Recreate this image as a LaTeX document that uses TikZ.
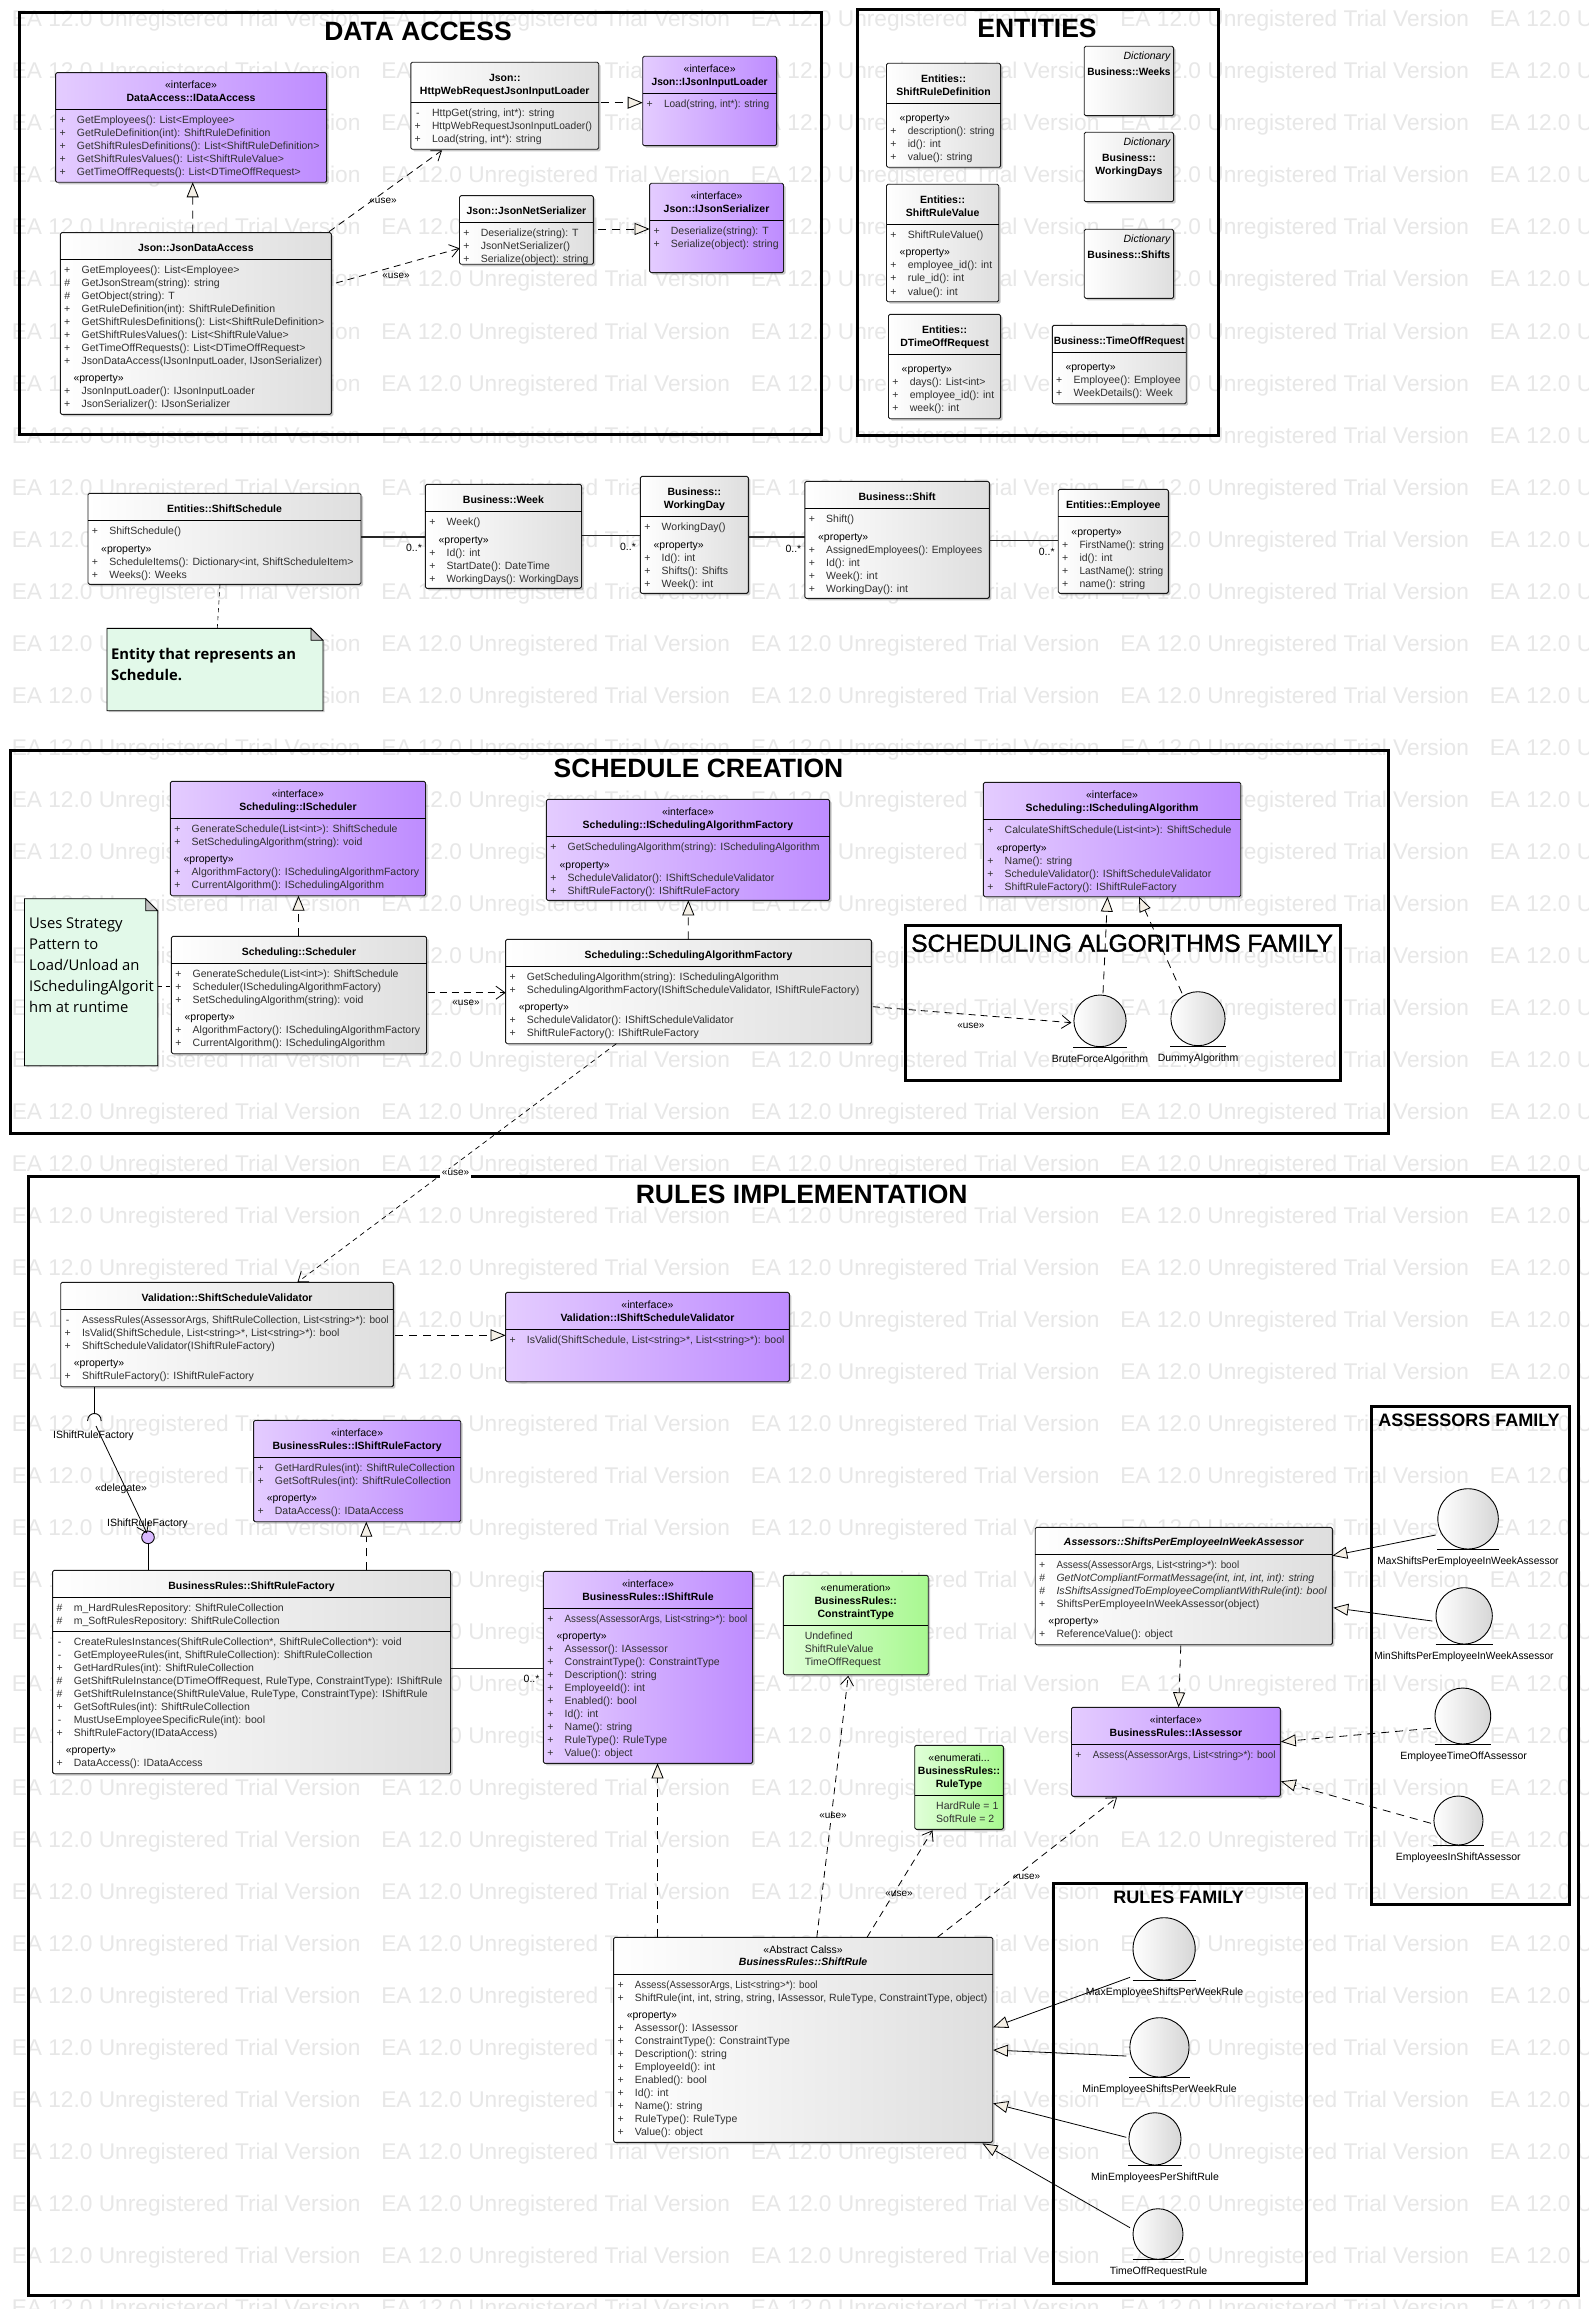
\documentclass[tikz,border=0pt]{standalone}
\usepackage{fontspec}
\setmainfont{Liberation Sans}
\newfontfamily\notefont{Open Sans}
\newfontfamily\semifont{Liberation Sans}[FakeBold=1.6]
\usetikzlibrary{arrows.meta,shapes.geometric,shadows}
\definecolor{ifL}{HTML}{E4CCFF}\definecolor{ifR}{HTML}{BE8CFF}
\definecolor{clR}{HTML}{DEDEDE}
\definecolor{enL}{HTML}{E0FFD8}\definecolor{enR}{HTML}{A8F890}
\definecolor{noteF}{HTML}{E2F9E9}\definecolor{tipF}{HTML}{F5F0E6}
\definecolor{wm}{HTML}{E7E7E7}\definecolor{memC}{HTML}{303030}
\newcommand\fsm{\fontsize{10.5}{13}\selectfont}
\newcommand\sq[2]{\scalebox{#1}[1]{#2}}
\newcounter{tn}
\tikzset{
 boxbase/.style={draw=black!90,line width=.9pt,rounded corners=1.5pt,inner sep=0pt,outer sep=0pt,
   drop shadow={shadow xshift=2pt,shadow yshift=-2pt,opacity=.35,fill=black!60}},
 ifbox/.style={boxbase,left color=ifL,right color=ifR},
 clbox/.style={boxbase,left color=white,right color=clR},
 enbox/.style={boxbase,left color=enL,right color=enR},
 seprule/.style={black,line width=.9pt},
 frm/.style={draw=black,line width=3pt,inner sep=0pt,outer sep=0pt},
 txt/.style={inner sep=0pt,outer sep=0pt,font=\fsm},
 realize/.style={draw=black,line width=.8pt,dash pattern=on 8pt off 6pt,-{Triangle[length=15pt,width=12pt,fill=tipF,line width=.8pt]}},
 realsolid/.style={draw=black,line width=.8pt,-{Triangle[length=15pt,width=12pt,fill=tipF,line width=.8pt]}},
 dep/.style={draw=black,line width=.8pt,dash pattern=on 7pt off 5pt,-{Straight Barb[length=9pt,width=13pt,line width=.8pt]}},
 assoc/.style={draw=black!85,line width=1.1pt},
 notelink/.style={draw=black,line width=.6pt,dash pattern=on 4pt off 4pt},
 titleB/.style={inner sep=0pt,outer sep=0pt,font=\fontsize{26.5}{30}\selectfont\bfseries},
 titleS/.style={inner sep=0pt,outer sep=0pt,font=\fontsize{18}{22}\selectfont\bfseries},
 ball/.style={shape=ellipse,draw=black,line width=.9pt,left color=white,right color=black!16,inner sep=0pt,outer sep=0pt},
}
\newcommand\cbox[6]{%
 \pgfmathsetmacro\bxa{#2}\pgfmathsetmacro\bxb{#4}%
 \pgfmathsetmacro\bw{#4-#2}\pgfmathsetmacro\bh{#5-#3}%
 \pgfmathsetmacro\bcx{(#2+#4)/2}%
 \node[#6,minimum width=\bw pt,minimum height=\bh pt] (#1) at (\bcx,{(#3+#5)/2}) {};}
\newcommand\divl[1]{\draw[seprule] (\bxa,#1) -- (\bxb,#1);}
\newcommand\utext[2]{\stepcounter{tn}\node[txt,anchor=base] (t\thetn) at (\bcx,#1+3.7) {#2};}
\newcommand\ubold[2]{\utext{#1}{\bfseries #2}}
\newcommand\urow[1]{\pgfmathsetmacro\yy{#1}}
\newcommand\umem[2]{%
 \stepcounter{tn}\node[txt,anchor=base,text=memC] (t\thetn) at (\bxa+7,\yy+3.7) {#1};%
 \stepcounter{tn}\node[txt,anchor=base west,text=memC] (t\thetn) at (\bxa+21.3,\yy+3.7) {#2};%
 \pgfmathsetmacro\yy{\yy+13}}
\newcommand\uplain[1]{%
 \stepcounter{tn}\node[txt,anchor=base west,text=memC] (t\thetn) at (\bxa+21.5,\yy+3.7) {#1};%
 \pgfmathsetmacro\yy{\yy+13}}
\newcommand\uprop{%
 \stepcounter{tn}\node[txt,anchor=base west] (t\thetn) at (\bxa+13.2,\yy+3.7) {«property»};%
 \pgfmathsetmacro\yy{\yy+13}}
\newcommand\ballnode[8]{% name x1 y1 x2 y2 lx ly text
 \pgfmathsetmacro\bw{#4-#2}\pgfmathsetmacro\bh{#5-#3}%
 \pgfmathsetmacro\brr{(#4-#2)/2+.5}%
 \node[ball,minimum width=\bw pt,minimum height=\bh pt] (#1) at ({(#2+#4)/2},{(#3+#5)/2}) {};
 \draw[black,line width=.9pt] ([xshift=-\brr pt,yshift=-.4pt]#1.south) -- ([xshift=\brr pt,yshift=-.4pt]#1.south);
 \node[txt,anchor=base] (#1lab) at (#6,#7+3.7) {#8};}
\newcommand\frmnode[5]{%
 \pgfmathsetmacro\bw{#4-#2}\pgfmathsetmacro\bh{#5-#3}%
 \node[frm,minimum width=\bw pt,minimum height=\bh pt] (#1) at ({(#2+#4)/2},{(#3+#5)/2}) {};}
\newcommand\notebox[5]{%
 \pgfmathsetmacro\bw{#4-#2}\pgfmathsetmacro\bh{#5-#3}%
 \node[inner sep=0pt,outer sep=0pt,minimum width=\bw pt,minimum height=\bh pt] (#1) at ({(#2+#4)/2},{(#3+#5)/2}) {};
 \draw[black,line width=.9pt,fill=noteF,drop shadow={shadow xshift=1.5pt,shadow yshift=-1.5pt,opacity=.3,fill=black!60}]
   (#1.north west) -- ([xshift=-12pt]#1.north east) -- ([yshift=-12pt]#1.north east) -- (#1.south east) -- (#1.south west) -- cycle;
 \draw[black,line width=.7pt,fill=black!25] ([xshift=-12pt]#1.north east) -- ([yshift=-12pt]#1.north east) -- ([xshift=-12pt,yshift=-12pt]#1.north east) -- cycle;}
\begin{document}
\begin{tikzpicture}[x=1pt,y=-1pt]
\useasboundingbox (0,0) rectangle (1588,2309);
\fill[white] (0,0) rectangle (1588,2309);
\begin{scope}
\clip (0,0) rectangle (1588,2309);
\foreach \r in {0,...,44}{
 \foreach \c in {0,...,4}{
  \node[inner sep=0pt,anchor=base west,text=wm,font=\fontsize{22.7}{26}\selectfont] (wm\r x\c)
    at ({11.6+369.5*\c},{27+52*\r}) {EA 12.0 Unregistered Trial Version};
 }
}
\end{scope}

% ---------- frames ----------
\frmnode{fData}{19}{13}{821.6}{434}
\node[titleB] (tData) at (418,31.7) {DATA ACCESS};
\frmnode{fEnt}{857.5}{10}{1218.6}{435.7}
\node[titleB] (tEnt) at (1037,28.3) {ENTITIES};
\frmnode{fSched}{10}{750.7}{1388.4}{1133.7}
\node[titleB] (tSched) at (698.5,768.3) {SCHEDULE CREATION};
\frmnode{fAlg}{905.5}{925}{1340.7}{1080.7}
\node[inner sep=0pt,font=\semifont\fontsize{24.5}{28}\selectfont] (tAlg) at (1122,943.3) {SCHEDULING ALGORITHMS FAMILY};
\frmnode{fRules}{28}{1176.3}{1578}{2295.7}
\node[titleB] (tRules) at (801.7,1194.3) {RULES IMPLEMENTATION};
\frmnode{fAss}{1371.4}{1406}{1569}{1904.7}
\node[titleS] (tAss) at (1469,1420.7) {ASSESSORS FAMILY};
\frmnode{fRF}{1053.7}{1883}{1306.8}{2283.3}
\node[titleS] (tRF) at (1178.6,1897.7) {RULES FAMILY};

% ---------- data access ----------
\cbox{A1}{55.6}{72.7}{326.6}{182.3}{ifbox}
\divl{109.3}\utext{85}{«interface»}\ubold{97.7}{DataAccess::IDataAccess}
\urow{120}\umem{+}{GetEmployees(): List<Employee>}\umem{+}{GetRuleDefinition(int): ShiftRuleDefinition}\umem{+}{GetShiftRulesDefinitions(): List<ShiftRuleDefinition>}\umem{+}{GetShiftRulesValues(): List<ShiftRuleValue>}\umem{+}{GetTimeOffRequests(): List<DTimeOffRequest>}

\cbox{A2}{60.3}{232.7}{331.4}{414.3}{clbox}
\divl{259.3}\ubold{247.7}{Json::JsonDataAccess}
\urow{269.7}\umem{+}{GetEmployees(): List<Employee>}\umem{\#}{GetJsonStream(string): string}\umem{\#}{GetObject(string): T}\umem{+}{GetRuleDefinition(int): ShiftRuleDefinition}\umem{+}{GetShiftRulesDefinitions(): List<ShiftRuleDefinition>}\umem{+}{GetShiftRulesValues(): List<ShiftRuleValue>}\umem{+}{GetTimeOffRequests(): List<DTimeOffRequest>}\umem{+}{JsonDataAccess(IJsonInputLoader, IJsonSerializer)}
\urow{378}\uprop\umem{+}{JsonInputLoader(): IJsonInputLoader}\umem{+}{JsonSerializer(): IJsonSerializer}

\cbox{A3}{410.8}{62.3}{598.7}{149.3}{clbox}
\divl{102.3}\ubold{77.7}{Json::}\ubold{90.7}{HttpWebRequestJsonInputLoader}
\urow{113}\umem{-}{HttpGet(string, int*): string}\umem{+}{\sq{.97}{HttpWebRequestJsonInputLoader()}}\umem{+}{Load(string, int*): string}

\cbox{A4}{642.7}{56.3}{776.6}{145.7}{ifbox}
\divl{93.3}\utext{69}{«interface»}\ubold{81.7}{\sq{.97}{Json::IJsonInputLoader}}
\urow{103.7}\umem{+}{\sq{.96}{Load(string, int*): string}}

\cbox{A5}{459.5}{195.7}{593.4}{264.3}{clbox}
\divl{222.3}\ubold{210.7}{Json::JsonNetSerializer}
\urow{232.7}\umem{+}{Deserialize(string): T}\umem{+}{JsonNetSerializer()}\umem{+}{Serialize(object): string}

\cbox{A6}{649.6}{183.3}{783.5}{272.7}{ifbox}
\divl{220.3}\utext{196}{«interface»}\ubold{208.7}{Json::IJsonSerializer}
\urow{230.7}\umem{+}{Deserialize(string): T}\umem{+}{Serialize(object): string}

% ---------- entities ----------
\cbox{E1}{886.5}{63.3}{1000.6}{167.3}{clbox}
\divl{103.3}\ubold{78.7}{Entities::}\ubold{91.7}{ShiftRuleDefinition}
\urow{118.3}\uprop\umem{+}{\sq{.96}{description(): string}}\umem{+}{id(): int}\umem{+}{value(): string}

\cbox{E2}{886.5}{184.3}{998.7}{301.7}{clbox}
\divl{224.3}\ubold{199.7}{Entities::}\ubold{212.7}{ShiftRuleValue}
\urow{234.7}\umem{+}{ShiftRuleValue()}
\urow{252.3}\uprop\umem{+}{employee\_id(): int}\umem{+}{rule\_id(): int}\umem{+}{value(): int}

\cbox{E3}{888.5}{314.3}{1000.6}{418.7}{clbox}
\divl{354.3}\ubold{329.7}{Entities::}\ubold{342.7}{DTimeOffRequest}
\urow{369}\uprop\umem{+}{days(): List<int>}\umem{+}{employee\_id(): int}\umem{+}{week(): int}

\cbox{D1}{1084.2}{46.3}{1173.6}{115.7}{clbox}
\node[txt,anchor=base east] (D1s) at (1170.3,59.4) {\itshape Dictionary};
\ubold{71.7}{\sq{.96}{Business::Weeks}}
\cbox{D2}{1084.2}{132.3}{1173.6}{201.7}{clbox}
\node[txt,anchor=base east] (D2s) at (1170.3,145.4) {\itshape Dictionary};
\ubold{157.7}{Business::}\ubold{170.7}{WorkingDays}
\cbox{D3}{1084.2}{229.3}{1173.6}{298.3}{clbox}
\node[txt,anchor=base east] (D3s) at (1170.3,242.4) {\itshape Dictionary};
\ubold{254.7}{Business::Shifts}

\cbox{E4}{1052.3}{325.3}{1186.2}{403.7}{clbox}
\divl{352.3}\ubold{340.7}{\sq{.97}{Business::TimeOffRequest}}
\urow{367}\uprop\umem{+}{Employee(): Employee}\umem{+}{WeekDetails(): Week}

% ---------- schedule row ----------
\cbox{S1}{88}{493.3}{361}{584.3}{clbox}
\divl{520.3}\ubold{508.7}{Entities::ShiftSchedule}
\urow{530.7}\umem{+}{ShiftSchedule()}
\urow{548.3}\uprop\umem{+}{ScheduleItems(): Dictionary<int, ShiftScheduleItem>}\umem{+}{Weeks(): Weeks}

\cbox{S2}{425.4}{484.3}{581.5}{588.3}{clbox}
\divl{511.3}\ubold{499.7}{Business::Week}
\urow{522}\umem{+}{Week()}
\urow{539.3}\uprop\umem{+}{Id(): int}\umem{+}{StartDate(): DateTime}\umem{+}{\sq{.955}{WorkingDays(): WorkingDays}}

\cbox{S3}{640.4}{476.3}{748.3}{593.3}{clbox}
\divl{516.3}\ubold{492}{Business::}\ubold{505}{WorkingDay}
\urow{527}\umem{+}{WorkingDay()}
\urow{544.7}\uprop\umem{+}{Id(): int}\umem{+}{Shifts(): Shifts}\umem{+}{Week(): int}

\cbox{S4}{804.9}{481.3}{989.3}{598.3}{clbox}
\divl{508.3}\ubold{496.7}{Business::Shift}
\urow{519}\umem{+}{Shift()}
\urow{536.3}\uprop\umem{+}{\sq{.97}{AssignedEmployees(): Employees}}\umem{+}{Id(): int}\umem{+}{Week(): int}\umem{+}{WorkingDay(): int}

\cbox{S5}{1058.2}{489.3}{1168.3}{593.3}{clbox}
\divl{516.3}\ubold{505}{Entities::Employee}
\urow{531.3}\uprop\umem{+}{\sq{.96}{FirstName(): string}}\umem{+}{id(): int}\umem{+}{\sq{.96}{LastName(): string}}\umem{+}{name(): string}

\notebox{N1}{107}{628.3}{323}{710.7}
\node[inner sep=0pt,anchor=north west,font=\notefont\fontsize{14.8}{21}\selectfont\bfseries,align=left] (N1t) at (111,648) {Entity that represents an\\Schedule.};

\draw[assoc] ([yshift=-43.7pt]S1.north east) -- ([yshift=-52.7pt]S2.north west);
\draw[assoc] ([yshift=-51pt]S2.north east) -- ([yshift=-59pt]S3.north west);
\draw[assoc] ([yshift=-60.7pt]S3.north east) -- ([yshift=-55.7pt]S4.north west);
\draw[assoc] ([yshift=-59pt]S4.north east) -- ([yshift=-51pt]S5.north west);
\node[txt] (m1) at (414,547.7) {0..*};
\node[txt] (m2) at (628,546.7) {0..*};
\node[txt] (m3) at (793.4,548.7) {0..*};
\node[txt] (m4) at (1046.7,551.7) {0..*};
\draw[notelink] ([xshift=132pt]S1.south west) -- ([xshift=110.3pt]N1.north west);

% ---------- schedule creation ----------
\cbox{C1}{170.4}{781.3}{425.5}{895.7}{ifbox}
\divl{818.7}\utext{794}{«interface»}\ubold{806.7}{Scheduling::IScheduler}
\urow{829}\umem{+}{GenerateSchedule(List<int>): ShiftSchedule}\umem{+}{SetSchedulingAlgorithm(string): void}
\urow{859}\uprop\umem{+}{AlgorithmFactory(): ISchedulingAlgorithmFactory}\umem{+}{CurrentAlgorithm(): ISchedulingAlgorithm}

\cbox{C2}{171.4}{936.3}{426.5}{1053.7}{clbox}
\divl{963.3}\ubold{951.7}{Scheduling::Scheduler}
\urow{973.7}\umem{+}{GenerateSchedule(List<int>): ShiftSchedule}\umem{+}{Scheduler(ISchedulingAlgorithmFactory)}\umem{+}{SetSchedulingAlgorithm(string): void}
\urow{1017}\uprop\umem{+}{AlgorithmFactory(): ISchedulingAlgorithmFactory}\umem{+}{CurrentAlgorithm(): ISchedulingAlgorithm}

\cbox{C3}{546.4}{799.3}{829.6}{900.3}{ifbox}
\divl{836.7}\utext{812}{«interface»}\ubold{824.7}{Scheduling::ISchedulingAlgorithmFactory}
\urow{846.7}\umem{+}{GetSchedulingAlgorithm(string): ISchedulingAlgorithm}
\urow{864.3}\uprop\umem{+}{ScheduleValidator(): IShiftScheduleValidator}\umem{+}{ShiftRuleFactory(): IShiftRuleFactory}

\cbox{C4}{505.6}{939.3}{871.4}{1043.7}{clbox}
\divl{966.3}\ubold{954.7}{Scheduling::SchedulingAlgorithmFactory}
\urow{976.7}\umem{+}{GetSchedulingAlgorithm(string): ISchedulingAlgorithm}\umem{+}{SchedulingAlgorithmFactory(IShiftScheduleValidator, IShiftRuleFactory)}
\urow{1007}\uprop\umem{+}{ScheduleValidator(): IShiftScheduleValidator}\umem{+}{ShiftRuleFactory(): IShiftRuleFactory}

\cbox{C5}{983.4}{782.3}{1240.7}{896.7}{ifbox}
\divl{819.7}\utext{795}{«interface»}\ubold{807.7}{Scheduling::ISchedulingAlgorithm}
\urow{829.7}\umem{+}{CalculateShiftSchedule(List<int>): ShiftSchedule}
\urow{847.3}\uprop\umem{+}{Name(): string}\umem{+}{ScheduleValidator(): IShiftScheduleValidator}\umem{+}{ShiftRuleFactory(): IShiftRuleFactory}

\notebox{N2}{24.5}{898.7}{157.7}{1065.7}
\node[inner sep=0pt,anchor=north west,font=\notefont\fontsize{14.8}{21}\selectfont,align=left] (N2t) at (29,917.5) {Uses Strategy\\Pattern to\\Load/Unload an\\ISchedulingAlgorit\\hm at runtime};

\ballnode{B1}{1073.9}{995}{1126.1}{1046.7}{1100}{1058.7}{BruteForceAlgorithm}
\ballnode{B2}{1170.9}{991.7}{1225.1}{1045.7}{1198}{1057.7}{DummyAlgorithm}

\draw[notelink] ([yshift=-87.3pt]N2.north east) -- ([yshift=-49.7pt]C2.north west);
\draw[realize] ([xshift=127.1pt]C2.north west) -- ([xshift=128.1pt]C1.south west);
\draw[realize] ([xshift=182.7pt]C4.north west) -- ([xshift=141.9pt]C3.south west);
\draw[dep] ([xshift=1.1pt,yshift=-56.4pt]C2.north east) -- ([yshift=-53.4pt]C4.north west);
\node[txt,font=\fontsize{10}{12}\selectfont] (u3) at (466,1003.3) {«use»};
\draw[dep] ([xshift=1.5pt,yshift=-67.4pt]C4.north east) -- ([xshift=-2.5pt,yshift=-1.85pt]B1.west);
\node[txt,font=\fontsize{10}{12}\selectfont] (u4) at (970.9,1025.7) {«use»};
\draw[realize] ([xshift=3pt,yshift=1.7pt]B1.north) -- ([xshift=124.1pt]C5.south west);
\draw[realize] ([xshift=-16pt,yshift=-1.6pt]B2.north) -- ([xshift=155.6pt]C5.south west);

% ---------- rules ----------
\cbox{R1}{60.7}{1282.3}{393.4}{1386.7}{clbox}
\divl{1309.3}\ubold{1297.7}{Validation::ShiftScheduleValidator}
\urow{1319.7}\umem{-}{\sq{.965}{AssessRules(AssessorArgs, ShiftRuleCollection, List<string>*): bool}}\umem{+}{IsValid(ShiftSchedule, List<string>*, List<string>*): bool}\umem{+}{ShiftScheduleValidator(IShiftRuleFactory)}
\urow{1363}\uprop\umem{+}{ShiftRuleFactory(): IShiftRuleFactory}

\cbox{R2}{505.6}{1292.3}{789.3}{1381.7}{ifbox}
\divl{1329.3}\utext{1305}{«interface»}\ubold{1317.7}{Validation::IShiftScheduleValidator}
\urow{1339.7}\umem{+}{IsValid(ShiftSchedule, List<string>*, List<string>*): bool}

\cbox{R3}{253.6}{1420.3}{460.7}{1521.7}{ifbox}
\divl{1457.3}\utext{1432.7}{«interface»}\ubold{1445.7}{BusinessRules::IShiftRuleFactory}
\urow{1467.7}\umem{+}{GetHardRules(int): ShiftRuleCollection}\umem{+}{GetSoftRules(int): ShiftRuleCollection}
\urow{1498}\uprop\umem{+}{DataAccess(): IDataAccess}

\cbox{R4}{52.6}{1570.3}{450.5}{1773.7}{clbox}
\divl{1597.3}\divl{1631}\ubold{1585.7}{BusinessRules::ShiftRuleFactory}
\urow{1607.7}\umem{\#}{m\_HardRulesRepository: ShiftRuleCollection}\umem{\#}{m\_SoftRulesRepository: ShiftRuleCollection}
\urow{1641.7}\umem{-}{CreateRulesInstances(ShiftRuleCollection*, ShiftRuleCollection*): void}\umem{-}{GetEmployeeRules(int, ShiftRuleCollection): ShiftRuleCollection}\umem{+}{GetHardRules(int): ShiftRuleCollection}\umem{\#}{GetShiftRuleInstance(DTimeOffRequest, RuleType, ConstraintType): IShiftRule}\umem{\#}{GetShiftRuleInstance(ShiftRuleValue, RuleType, ConstraintType): IShiftRule}\umem{+}{GetSoftRules(int): ShiftRuleCollection}\umem{-}{MustUseEmployeeSpecificRule(int): bool}\umem{+}{ShiftRuleFactory(IDataAccess)}
\urow{1750}\uprop\umem{+}{DataAccess(): IDataAccess}

\cbox{R5}{543.4}{1571.3}{752.6}{1763.3}{ifbox}
\divl{1608.3}\utext{1584}{«interface»}\ubold{1596.7}{BusinessRules::IShiftRule}
\urow{1618.7}\umem{+}{\sq{.93}{Assess(AssessorArgs, List<string>*): bool}}
\urow{1636}\uprop\umem{+}{Assessor(): IAssessor}\umem{+}{ConstraintType(): ConstraintType}\umem{+}{Description(): string}\umem{+}{EmployeeId(): int}\umem{+}{Enabled(): bool}\umem{+}{Id(): int}\umem{+}{Name(): string}\umem{+}{RuleType(): RuleType}\umem{+}{Value(): object}

\cbox{R6}{783.3}{1575.3}{928.2}{1674.7}{enbox}
\divl{1625.3}\utext{1588}{«enumeration»}\ubold{1601}{BusinessRules::}\ubold{1614}{ConstraintType}
\urow{1635.7}\uplain{Undefined}\uplain{ShiftRuleValue}\uplain{TimeOffRequest}

\cbox{R7}{914.7}{1745.3}{1003.4}{1829.3}{enbox}
\divl{1795.7}\utext{1758}{«enumerati...}\ubold{1770.7}{BusinessRules::}\ubold{1783.7}{RuleType}
\urow{1805.7}\uplain{HardRule = 1}\uplain{SoftRule = 2}

\cbox{R8}{1071.5}{1707.3}{1280.3}{1796.3}{ifbox}
\divl{1744.3}\utext{1720}{«interface»}\ubold{1732.7}{BusinessRules::IAssessor}
\urow{1755}\umem{+}{\sq{.93}{Assess(AssessorArgs, List<string>*): bool}}

\cbox{R9}{1035.2}{1527.3}{1332.3}{1644.7}{clbox}
\divl{1554.3}\ubold{1541.7}{\itshape Assessors::ShiftsPerEmployeeInWeekAssessor}
\urow{1564.7}\umem{+}{\sq{.93}{Assess(AssessorArgs, List<string>*): bool}}\umem{\#}{\itshape GetNotCompliantFormatMessage(int, int, int, int): string}\umem{\#}{\itshape IsShiftsAssignedToEmployeeCompliantWithRule(int): bool}\umem{+}{ShiftsPerEmployeeInWeekAssessor(object)}
\urow{1621}\uprop\umem{+}{ReferenceValue(): object}

\cbox{R10}{613.6}{1937.3}{992.7}{2142.3}{clbox}
\divl{1974.3}\utext{1950}{«Abstract Calss»}\ubold{1961.7}{\itshape BusinessRules::ShiftRule}
\urow{1985}\umem{+}{\sq{.93}{Assess(AssessorArgs, List<string>*): bool}}\umem{+}{ShiftRule(int, int, string, string, IAssessor, RuleType, ConstraintType, object)}
\urow{2015}\uprop\umem{+}{Assessor(): IAssessor}\umem{+}{ConstraintType(): ConstraintType}\umem{+}{Description(): string}\umem{+}{EmployeeId(): int}\umem{+}{Enabled(): bool}\umem{+}{Id(): int}\umem{+}{Name(): string}\umem{+}{RuleType(): RuleType}\umem{+}{Value(): object}

\ballnode{BMaxS}{1437.8}{1488.7}{1498.3}{1549}{1468}{1560.7}{\sq{.965}{MaxShiftsPerEmployeeInWeekAssessor}}
\ballnode{BMinS}{1436}{1587.7}{1492.3}{1644}{1464}{1655.7}{\sq{.97}{MinShiftsPerEmployeeInWeekAssessor}}
\ballnode{BEmp}{1435}{1688}{1490.7}{1744}{1463.6}{1755.7}{EmployeeTimeOffAssessor}
\ballnode{BEIS}{1433.9}{1796}{1483}{1845}{1458.2}{1856.7}{EmployeesInShiftAssessor}
\ballnode{BR1}{1133}{1917.7}{1195.2}{1980}{1164.6}{1991.7}{MaxEmployeeShiftsPerWeekRule}
\ballnode{BR2}{1129.9}{2017.7}{1189}{2077}{1159.5}{2088.7}{MinEmployeeShiftsPerWeekRule}
\ballnode{BR3}{1128.9}{2112.7}{1181}{2165}{1155}{2176.7}{MinEmployeesPerShiftRule}
\ballnode{BR4}{1133}{2208.7}{1183}{2259.3}{1158.5}{2270.7}{TimeOffRequestRule}

% socket and lollipop
\coordinate (sock) at (94.4,1421);
\draw[black,line width=.9pt] ([xshift=33.7pt]R1.south west) -- ([yshift=7.6pt]sock);
\draw[black,line width=.9pt] ([xshift=-6.8pt]sock) .. controls ([xshift=-6.8pt,yshift=10pt]sock) and ([xshift=6.8pt,yshift=10pt]sock) .. ([xshift=6.8pt]sock);
\node[txt] (sockl) at (93.4,1436) {IShiftRuleFactory};
\node[shape=circle,draw=black,line width=.9pt,fill=ifL!70!ifR,minimum size=12.6pt,inner sep=0pt,outer sep=0pt] (lolli) at (148,1537.3) {};
\draw[black,line width=.9pt] (lolli.south) -- ([xshift=95.4pt]R4.north west);
\node[txt] (lollil) at (147.4,1523.7) {IShiftRuleFactory};
\draw[black,line width=.8pt,-{Straight Barb[length=9pt,width=13pt,line width=.8pt]}] ([xshift=1.6pt,yshift=-5pt]sock) -- ([xshift=-1pt,yshift=4pt]lolli.center);
\node[txt] (dlgl) at (121,1489) {«delegate»};

% connectors
\draw[dep,line width=.7pt,dash pattern=on 5pt off 4pt] ([xshift=110.7pt]C4.south west) -- ([xshift=236.7pt]R1.north west);
\node[txt,font=\fontsize{10}{12}\selectfont,fill=white,inner sep=1.5pt] (u5) at (455.6,1173.3) {«use»};
\draw[realize] ([xshift=2pt,yshift=-53pt]R1.north east) -- ([yshift=-43pt]R2.north west);
\draw[realize] ([xshift=313.7pt]R4.north west) -- ([xshift=112.7pt]R3.south west);
\draw[assoc] ([yshift=-98.4pt]R4.north east) -- ([yshift=-97.4pt]R5.north west);
\node[txt] (m5) at (531.6,1679.3) {0..*};
\draw[realize] ([xshift=43.9pt]R10.north west) -- ([xshift=114.1pt]R5.south west);
\draw[realize] ([xshift=145.6pt,yshift=-1pt]R9.south west) -- ([xshift=107.1pt]R8.north west);
\draw[dep] ([xshift=203.2pt]R10.north west) -- ([xshift=64.9pt,yshift=-1pt]R6.south west);
\node[txt,font=\fontsize{10}{12}\selectfont] (u6) at (833,1816.3) {«use»};
\draw[dep] ([xshift=253.4pt]R10.north west) -- ([xshift=17.8pt,yshift=-1pt]R7.south west);
\node[txt,font=\fontsize{10}{12}\selectfont] (u7) at (899,1894.3) {«use»};
\draw[dep] ([xshift=323.8pt]R10.north west) -- ([xshift=45.5pt,yshift=-1pt]R8.south west);
\node[txt,font=\fontsize{10}{12}\selectfont] (u8) at (1026.6,1877.3) {«use»};
\draw[realsolid] ([xshift=-2.2pt,yshift=-16.15pt]BMaxS.west) -- ([yshift=-28.4pt]R9.north east);
\draw[realsolid] ([xshift=-3.7pt,yshift=-5.15pt]BMinS.west) -- ([xshift=1pt,yshift=-80.4pt]R9.north east);
\draw[realize] ([xshift=-4pt,yshift=-12.3pt]BEmp.west) -- ([xshift=.5pt,yshift=-34.4pt]R8.north east);
\draw[realize] ([xshift=-2.9pt,yshift=-2.8pt]BEIS.west) -- ([xshift=.5pt,yshift=-74pt]R8.north east);
\draw[realsolid] ([xshift=-3pt,yshift=-28.45pt]BR1.west) -- ([xshift=.3pt,yshift=-90pt]R10.north east);
\draw[realsolid] ([xshift=-3.6pt,yshift=-8.65pt]BR2.west) -- ([xshift=.3pt,yshift=-112.7pt]R10.north east);
\draw[realsolid] ([xshift=-2.6pt,yshift=1.55pt]BR3.west) -- ([xshift=.3pt,yshift=-166pt]R10.north east);
\draw[realsolid] ([xshift=-3pt,yshift=6.3pt]BR4.west) -- ([xshift=-10.3pt,yshift=-1pt]R10.south east);

% data access connectors
\draw[realize] ([xshift=132.4pt]A2.north west) -- ([xshift=137.1pt]A1.south west);
\draw[dep] ([xshift=268.7pt,yshift=1pt]A2.north west) -- ([xshift=31.2pt,yshift=-1pt]A3.south west);
\node[txt,font=\fontsize{10}{12}\selectfont] (u1) at (383,201.3) {«use»};
\draw[dep] ([xshift=4.6pt,yshift=-50.3pt]A2.north east) -- ([yshift=-52.6pt]A5.north west);
\node[txt,font=\fontsize{10}{12}\selectfont] (u2) at (396,276.3) {«use»};
\draw[realize] ([xshift=2pt,yshift=-40.4pt]A3.north east) -- ([yshift=-46.4pt]A4.north west);
\draw[realize] ([xshift=4.6pt,yshift=-33.3pt]A5.north east) -- ([yshift=-45.7pt]A6.north west);
\end{tikzpicture}
\end{document}
